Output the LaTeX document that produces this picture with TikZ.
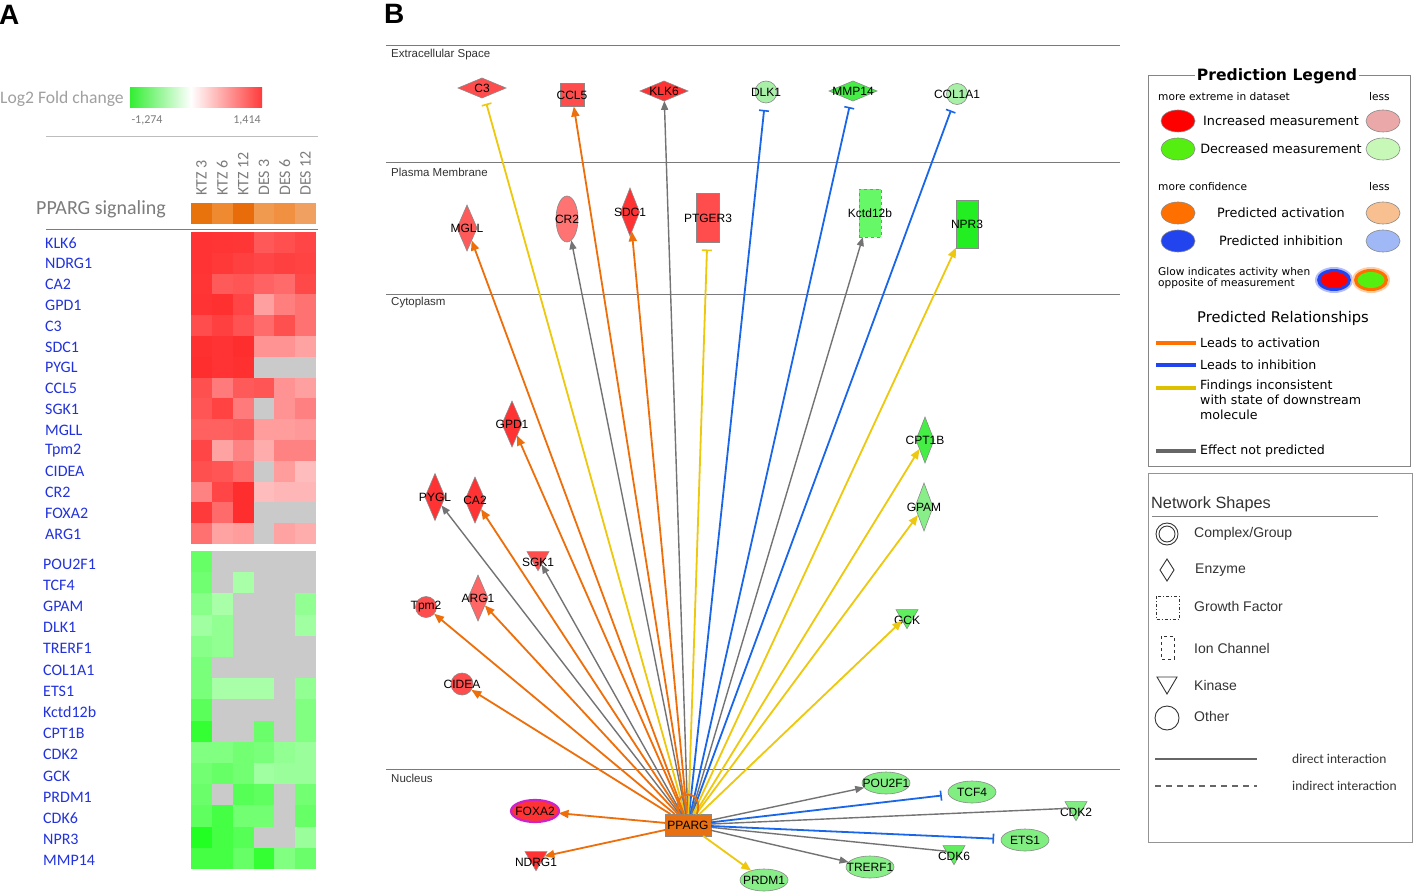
\documentclass[tikz,border=0pt]{standalone}
\usepackage{fontspec}
\setmainfont{Liberation Sans}
\newfontfamily\calfont{Carlito}
\newfontfamily\dvfont{DejaVu Sans}
\usetikzlibrary{shapes.geometric,arrows.meta}
\newcommand\myfs[1]{\fontsize{#1}{#1}\selectfont}
\definecolor{nodeb}{HTML}{8A8A8A}
\definecolor{eor}{HTML}{EE6E0A}
\definecolor{eblue}{HTML}{1A66E8}
\definecolor{eyel}{HTML}{EDC80C}
\definecolor{egray}{HTML}{737373}
\definecolor{gblue}{HTML}{2233DD}
\definecolor{hgray}{HTML}{7C7C7C}
\definecolor{lgray}{HTML}{A0A0A0}
\definecolor{cline}{HTML}{7A7A7A}
\definecolor{ctext}{HTML}{333333}
\definecolor{rA}{HTML}{FF3333}
\definecolor{rB}{HTML}{FF4D4D}
\definecolor{rC}{HTML}{FF5A5A}
\definecolor{rD}{HTML}{FF7373}
\definecolor{rE}{HTML}{FF6666}
\definecolor{gA}{HTML}{44EE44}
\definecolor{gB}{HTML}{A8F0A8}
\definecolor{gC}{HTML}{22EE22}
\definecolor{gD}{HTML}{66F866}
\definecolor{gE}{HTML}{88EE88}
\definecolor{gF}{HTML}{80EE80}
\definecolor{gG}{HTML}{60EE60}
\definecolor{pparg}{HTML}{E87010}
\definecolor{glowm}{HTML}{CC22CC}
\definecolor{gradg}{HTML}{33EE33}
\definecolor{gradr}{HTML}{FF3A3A}
\definecolor{lgRed}{HTML}{FF0000}
\definecolor{lgPink}{HTML}{EBA8A8}
\definecolor{lgGreen}{HTML}{55EE11}
\definecolor{lgLGreen}{HTML}{C8F8B8}
\definecolor{lgOr}{HTML}{FF7000}
\definecolor{lgLOr}{HTML}{F8C090}
\definecolor{lgBlue}{HTML}{2244EE}
\definecolor{lgLBlue}{HTML}{A0B8F5}
\definecolor{lgYel}{HTML}{DDC000}
\definecolor{lgGray}{HTML}{666666}
\tikzset{
  gn/.style={draw=nodeb, line width=0.6pt, inner sep=0pt, outer sep=0pt},
  nl/.style={font=\myfs{12}, text=black, inner sep=0pt},
  lab/.style={label={[nl]center:#1}},
  tlab/.style={label={[nl,yshift=-4pt]center:#1}},
  dmd/.style n args={3}{gn, diamond, fill=#1, minimum width=#2, minimum height=#3},
  box/.style n args={3}{gn, rectangle, fill=#1, minimum width=#2, minimum height=#3},
  ell/.style n args={3}{gn, ellipse, fill=#1, minimum width=#2, minimum height=#3},
  circ/.style n args={2}{gn, circle, fill=#1, minimum size=#2},
  tri/.style={gn, regular polygon, regular polygon sides=3, shape border rotate=180, fill=#1, minimum size=25.4},
  act/.style={draw=eor, line width=1.8pt, -{Triangle[length=10pt,width=8pt]}},
  inh/.style={draw=eblue, line width=1.8pt, -{Bar[width=10pt,line width=1.6pt]}, shorten >=7pt},
  incA/.style={draw=eyel, line width=1.8pt, -{Triangle[length=10pt,width=8pt]}},
  incI/.style={draw=eyel, line width=1.8pt, -{Bar[width=10pt,line width=1.6pt]}, shorten >=7pt},
  npA/.style={draw=egray, line width=1.4pt, -{Triangle[length=9pt,width=7pt]}},
  npL/.style={draw=egray, line width=1.4pt},
  glab/.style={anchor=west, font=\calfont\myfs{16}, text=gblue, inner sep=0pt},
  colh/.style={rotate=90, anchor=west, font=\calfont\myfs{16}, text=hgray, inner sep=0pt},
  comp/.style={anchor=west, font=\myfs{11.5}, text=ctext, inner sep=0pt},
  lgell/.style={draw=nodeb, line width=0.6pt, ellipse, minimum width=34, minimum height=22, inner sep=0pt, fill=#1},
  lgtxt/.style={font=\dvfont\myfs{12.8}, text=black, inner sep=0pt},
  lgsmall/.style={font=\dvfont\myfs{10.6}, text=black, inner sep=0pt, anchor=west},
  reltxt/.style={font=\dvfont\myfs{12.6}, text=black, inner sep=0pt, anchor=west},
  nstxt/.style={font=\myfs{14}, text=ctext, inner sep=0pt, anchor=west},
  itxt/.style={font=\calfont\myfs{13.5}, text=ctext, inner sep=0pt, anchor=west}
}
\begin{document}
\begin{tikzpicture}[x=1pt,y=-1pt]
\useasboundingbox (0,0) rectangle (1418,896);
\fill[white] (0,0) rectangle (1418,896);

% ---------------- Panel A ----------------
\node[font=\bfseries\myfs{28}, anchor=west, inner sep=0pt] (pA) at (-1,15) {A};
\node[font=\calfont\myfs{17.6}, text=lgray, anchor=west, inner sep=0pt] (lfc) at (0,99) {Log2 Fold change};
\shade[left color=gradg, right color=white] (130,88) rectangle (191,108);
\shade[left color=white, right color=gradr] (191,88) rectangle (262,108);
\node[font=\calfont\myfs{12}, text=hgray, inner sep=0pt] (lmin) at (147,120) {-1,274};
\node[font=\calfont\myfs{12}, text=hgray, inner sep=0pt] (lmax) at (247,120) {1,414};
\draw[color=lgray!70, line width=0.8pt] (46,136) -- (318,136);
\foreach \t [count=\k] in {KTZ 3,KTZ 6,KTZ 12,DES 3,DES 6,DES 12}
  \node[colh] (ch\k) at ({201.4+(\k-1)*20.833},196) {\t};
\node[font=\calfont\myfs{20}, text=hgray, anchor=west, inner sep=0pt] (pps) at (36,209) {PPARG signaling};
\foreach \c [count=\k] in {E8720C,F08A30,E86C0A,F09A50,F09040,F0A060}{
  \edef\tmp{\noexpand\definecolor{cc}{HTML}{\c}}\tmp
  \fill[cc] ({191+(\k-1)*20.833},203) rectangle ++(20.9,21);
}
\draw[color=hgray, line width=1.2pt] (46,229.5) -- (318,229.5);
% red block
\foreach \rowc [count=\r] in {
 {FF3333,FF3535,FF3636,FF5858,FF4F4F,FF4545},
 {FF3333,FF3838,FF4040,FF4545,FF4040,FF4343},
 {FF3535,FF5A5A,FF5555,FF6262,FF6A6A,FF4848},
 {FF3333,FF3030,FF4545,FFA0A0,FF7F7F,FF7272},
 {FF4C4C,FF4040,FF5252,FF6A6A,FF5050,FF7272},
 {FF3030,FF3333,FF2E2E,FF9292,FF9292,FFA2A2},
 {FF2E2E,FF3333,FF3030,CACACA,CACACA,CACACA},
 {FF5050,FF7A7A,FF5A5A,FF5555,FF9292,FFA0A0},
 {FF5555,FF4242,FF7A7A,CACACA,FF9292,FF8080},
 {FF6060,FF6060,FF5A5A,FF9C9C,FF9C9C,FF9898},
 {FF4545,FFA2A2,FF8282,FFACAC,FF8282,FF8282},
 {FF5050,FF5555,FF6A6A,CACACA,FF9C9C,FFBCBC},
 {FF8282,FF4545,FF2E2E,FFBCBC,FFB6B6,FFB6B6},
 {FF3A3A,FF6A6A,FF2E2E,CACACA,CACACA,CACACA},
 {FF7070,FFA2A2,FF9C9C,CACACA,FFA2A2,FFACAC}}{
  \foreach \c [count=\k] in \rowc {
    \edef\tmp{\noexpand\definecolor{cc}{HTML}{\c}}\tmp
    \fill[cc] ({191+(\k-1)*20.833},{232+(\r-1)*20.8}) rectangle ++(20.9,20.9);
  }
}
% green block
\foreach \rowc [count=\r] in {
 {66FF66,CACACA,CACACA,CACACA,CACACA,CACACA},
 {70FF70,CACACA,A8FFA8,CACACA,CACACA,CACACA},
 {88FF88,A8FFA8,CACACA,CACACA,CACACA,92FF92},
 {A0FFA0,92FF92,CACACA,CACACA,CACACA,A0FFA0},
 {88FF88,92FF92,CACACA,CACACA,CACACA,CACACA},
 {7AFF7A,CACACA,CACACA,CACACA,CACACA,CACACA},
 {7AFF7A,A8FFA8,A8FFA8,A8FFA8,CACACA,92FF92},
 {5AFF5A,CACACA,CACACA,CACACA,CACACA,80FF80},
 {33FF33,CACACA,CACACA,6AFF6A,CACACA,80FF80},
 {80FF80,80FF80,72FF72,7AFF7A,92FF92,9AFF9A},
 {72FF72,66FF66,72FF72,A0FFA0,9AFF9A,9AFF9A},
 {6AFF6A,CACACA,55FF55,60FF60,CACACA,72FF72},
 {60FF60,44FF44,72FF72,72FF72,CACACA,66FF66},
 {22FF22,44FF44,55FF55,CACACA,CACACA,9AFF9A},
 {44FF44,44FF44,66FF66,33FF33,80FF80,6AFF6A}}{
  \foreach \c [count=\k] in \rowc {
    \edef\tmp{\noexpand\definecolor{cc}{HTML}{\c}}\tmp
    \fill[cc] ({191+(\k-1)*20.833},{551+(\r-1)*21.2}) rectangle ++(20.9,21.3);
  }
}
\foreach \g [count=\r] in {KLK6,NDRG1,CA2,GPD1,C3,SDC1,PYGL,CCL5,SGK1,MGLL,Tpm2,CIDEA,CR2,FOXA2,ARG1}
  \node[glab] (ga\r) at (45,{243+(\r-1)*20.8}) {\g};
\foreach \g [count=\r] in {POU2F1,TCF4,GPAM,DLK1,TRERF1,COL1A1,ETS1,Kctd12b,CPT1B,CDK2,GCK,PRDM1,CDK6,NPR3,MMP14}
  \node[glab] (gb\r) at (43,{564+(\r-1)*21.2}) {\g};

% ---------------- Panel B ----------------
\node[font=\bfseries\myfs{28}, anchor=west, inner sep=0pt] (pB) at (384,14) {B};
\foreach \yy in {46,163,294,769} \draw[color=cline, line width=1pt] (386,\yy) -- (1120,\yy);
\node[comp] (cExt) at (391,55) {Extracellular Space};
\node[comp] (cPM) at (391,172) {Plasma Membrane};
\node[comp] (cCyt) at (391,303) {Cytoplasm};
\node[comp] (cNuc) at (391,778) {Nucleus};

% nodes
\node[dmd={rB}{48}{20}, lab=C3] (C3) at (482,88) {};
\node[box={rB}{24}{23}, lab=CCL5] (CCL5) at (572,95) {};
\node[dmd={rA}{48}{20}, lab=KLK6] (KLK6) at (664,91) {};
\node[circ={gB}{22}, lab=DLK1] (DLK1) at (766,92) {};
\node[dmd={gA}{48}{20}, lab=MMP14] (MMP14) at (853,91) {};
\node[circ={gB}{21}, lab=COL1A1] (COL1A1) at (957,94) {};

\node[dmd={rC}{20}{46}, lab=MGLL] (MGLL) at (467,228) {};
\node[ell={rD}{22}{46}, lab=CR2] (CR2) at (567,219) {};
\node[dmd={rA}{19}{48}, lab=SDC1] (SDC1) at (630,212) {};
\node[box={rB}{23}{49}, lab=PTGER3] (PTGER3) at (708,218) {};
\node[box={gD}{22}{48}, dashed, lab=Kctd12b] (Kctd12b) at (870,213) {};
\node[box={gC}{22}{48}, lab=NPR3] (NPR3) at (967,224) {};

\node[dmd={rA}{20}{46}, lab=GPD1] (GPD1) at (512,424) {};
\node[dmd={rA}{20}{47}, lab=PYGL] (PYGL) at (435,497) {};
\node[dmd={rA}{20}{46}, lab=CA2] (CA2) at (475,500) {};
\node[tri={rB}, tlab=SGK1] (SGK1) at (538,558) {};
\node[dmd={rE}{20}{46}, lab=ARG1] (ARG1) at (478,598) {};
\node[circ={rB}{21}, lab=Tpm2] (Tpm2) at (426,607) {};
\node[circ={rB}{22}, lab=CIDEA] (CIDEA) at (462,684) {};

\node[dmd={gA}{18}{46}, lab=CPT1B] (CPT1B) at (925,440) {};
\node[dmd={gE}{18}{48}, lab=GPAM] (GPAM) at (924,507) {};
\node[tri={gG}, tlab=GCK] (GCK) at (907,616) {};

\node[box={pparg}{46}{22}, font=\myfs{12}] (PPARG) at (688,825) {PPARG};
\node[ell={rA}{48}{22}, draw=glowm, line width=2.2pt, lab=FOXA2] (FOXA2) at (535,811) {};
\node[tri={rA}, tlab=NDRG1] (NDRG1) at (536,858) {};
\node[ell={gE}{48}{22}, lab=PRDM1] (PRDM1) at (764,880) {};
\node[ell={gE}{48}{22}, lab=TRERF1] (TRERF1) at (870,867) {};
\node[tri={gG}, tlab=CDK6] (CDK6) at (954,852) {};
\node[ell={gF}{48}{22}, lab=ETS1] (ETS1) at (1025,840) {};
\node[tri={gF}, tlab=CDK2] (CDK2) at (1076,808) {};
\node[ell={gF}{48}{22}, lab=TCF4] (TCF4) at (972,792) {};
\node[ell={gF}{48}{22}, lab=POU2F1] (POU2F1) at (886,783) {};

% edges
\draw[incI] (PPARG) -- (C3);
\draw[act] (PPARG) -- (CCL5);
\draw[npA] (PPARG) -- (KLK6);
\draw[inh] (PPARG) -- (DLK1);
\draw[inh] (PPARG) -- (MMP14);
\draw[inh] (PPARG) -- (COL1A1);
\draw[act] (PPARG) -- (MGLL);
\draw[npA] (PPARG) -- (CR2);
\draw[act] (PPARG) -- (SDC1);
\draw[incI] (PPARG) -- (PTGER3);
\draw[npA] (PPARG) -- (Kctd12b);
\draw[incA] (PPARG) -- (NPR3);
\draw[act] (PPARG) -- (GPD1);
\draw[npA] (PPARG) -- (PYGL);
\draw[act] (PPARG) -- (CA2);
\draw[npA] (PPARG) -- (SGK1);
\draw[act] (PPARG) -- (ARG1);
\draw[act] (PPARG) -- (Tpm2);
\draw[act] (PPARG) -- (CIDEA);
\draw[incA] (PPARG) -- (CPT1B);
\draw[incA] (PPARG) -- (GPAM);
\draw[incA] (PPARG) -- (GCK);
\draw[act] (PPARG) -- (FOXA2);
\draw[act] (PPARG) -- (NDRG1);
\draw[incA] (PPARG) -- (PRDM1);
\draw[npA] (PPARG) -- (TRERF1);
\draw[npL] (PPARG) -- (CDK6);
\draw[inh] (PPARG) -- (ETS1);
\draw[npL] (PPARG) -- (CDK2);
\draw[inh] (PPARG) -- (TCF4);
\draw[npA] (PPARG) -- (POU2F1);
\draw[draw=eor, line width=1.8pt] ([xshift=-9pt]PPARG.north) .. controls +(-8,-26) and +(8,-26) .. ([xshift=9pt]PPARG.north);

% ---------------- Prediction legend ----------------
\draw[color=lgGray!80, line width=1pt] (1148,76) rectangle (1410,466);
\node[font=\dvfont\bfseries\myfs{15.6}, fill=white, inner sep=2pt] (plt) at (1277,76) {Prediction Legend};
\node[lgsmall] (pl1) at (1158,97) {more extreme in dataset};
\node[lgsmall] (pl2) at (1369,97) {less};
\node[lgell=lgRed] (e1) at (1178,121) {};
\node[lgtxt] (t1) at (1281,121) {Increased measurement};
\node[lgell=lgPink] (e2) at (1383,121) {};
\node[lgell=lgGreen] (e3) at (1178,149) {};
\node[lgtxt] (t2) at (1281,149) {Decreased measurement};
\node[lgell=lgLGreen] (e4) at (1383,149) {};
\node[lgsmall] (pl3) at (1158,187) {more confidence};
\node[lgsmall] (pl4) at (1369,187) {less};
\node[lgell=lgOr] (e5) at (1178,213) {};
\node[lgtxt] (t3) at (1281,213) {Predicted activation};
\node[lgell=lgLOr] (e6) at (1383,213) {};
\node[lgell=lgBlue] (e7) at (1178,241) {};
\node[lgtxt] (t4) at (1281,241) {Predicted inhibition};
\node[lgell=lgLBlue] (e8) at (1383,241) {};
\node[lgsmall, align=left, anchor=north west] (pl5) at (1158,267) {Glow indicates activity when\\[1pt]opposite of measurement};
\fill[lgBlue!35] (1334,280) ellipse (19 and 13);
\fill[lgBlue] (1334,280) ellipse (17 and 11);
\fill[lgRed] (1334,280) ellipse (13.5 and 8);
\fill[lgOr!35] (1371,280) ellipse (19 and 13);
\fill[lgOr] (1371,280) ellipse (17 and 11);
\fill[lgGreen] (1371,280) ellipse (13.5 and 8);
\node[font=\dvfont\myfs{14.7}, inner sep=0pt] (prt) at (1283,318) {Predicted Relationships};
\draw[lgOr, line width=4pt] (1156,343) -- (1196,343);
\node[reltxt] (r1) at (1200,343) {Leads to activation};
\draw[lgBlue, line width=4pt] (1156,365) -- (1196,365);
\node[reltxt] (r2) at (1200,365) {Leads to inhibition};
\draw[lgYel, line width=4pt] (1156,388) -- (1196,388);
\node[reltxt, align=left, anchor=north west] (r3) at (1200,380) {Findings inconsistent\\[2.5pt]with state of downstream\\[2.5pt]molecule};
\draw[lgGray, line width=4pt] (1156,451) -- (1196,451);
\node[reltxt] (r4) at (1200,451) {Effect not predicted};

% ---------------- Network shapes legend ----------------
\draw[color=lgGray!70, line width=1pt] (1148,473) rectangle (1412,842);
\node[font=\myfs{16.3}, text=ctext, anchor=west, inner sep=0pt] (nst) at (1151,504) {Network Shapes};
\draw[color=lgGray!80, line width=0.8pt] (1152,516) -- (1378,516);
\draw[ctext, line width=0.9pt] (1167,534) circle (11);
\draw[ctext, line width=0.9pt] (1167,534) circle (8);
\node[nstxt] (s1) at (1194,534) {Complex/Group};
\draw[ctext, line width=0.9pt] (1167,559) -- (1174,570) -- (1167,581) -- (1160,570) -- cycle;
\node[nstxt] (s2) at (1195,570) {Enzyme};
\draw[ctext, line width=0.9pt, dash dot] (1156,596) rectangle (1179,619);
\node[nstxt] (s3) at (1194,606) {Growth Factor};
\draw[ctext, line width=0.9pt, dashed] (1161,636) rectangle (1174,659);
\node[nstxt] (s4) at (1194,648) {Ion Channel};
\draw[ctext, line width=0.9pt] (1157,677) -- (1177,677) -- (1167,694) -- cycle;
\node[nstxt] (s5) at (1194,685) {Kinase};
\draw[ctext, line width=0.9pt] (1167,718) circle (12);
\node[nstxt] (s6) at (1194,716) {Other};
\draw[lgGray, line width=1.2pt] (1155,759) -- (1257,759);
\node[itxt] (i1) at (1292,759) {direct interaction};
\draw[lgGray, line width=1.2pt, dash pattern=on 6pt off 5pt] (1155,786) -- (1257,786);
\node[itxt] (i2) at (1292,786) {indirect interaction};
\end{tikzpicture}
\end{document}
